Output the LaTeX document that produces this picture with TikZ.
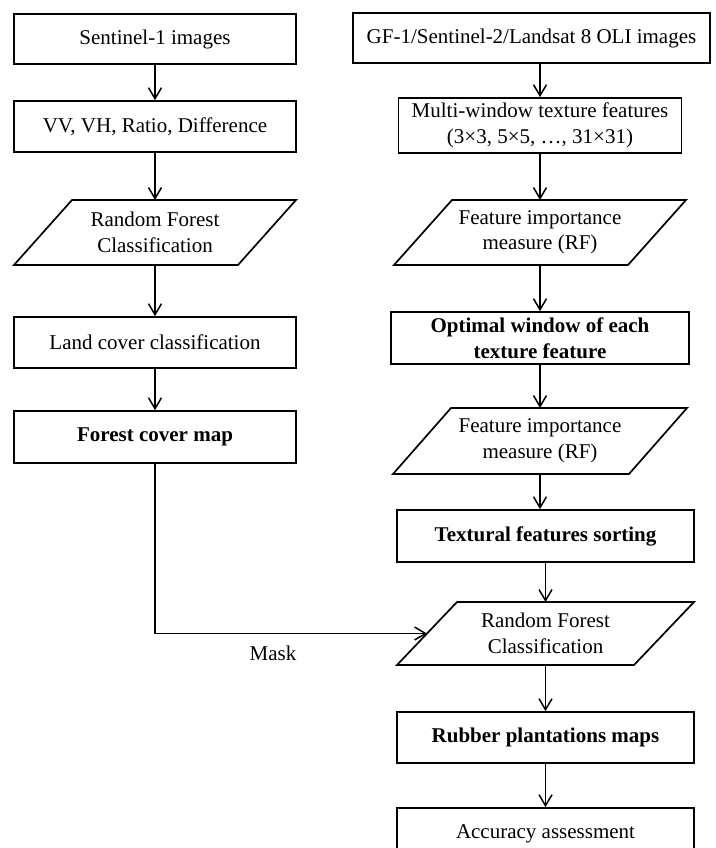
\documentclass[tikz,border=0pt]{standalone}
\usepackage{fontspec}
\setmainfont{Liberation Serif}
\usetikzlibrary{arrows.meta,calc}
\newcommand{\flowfont}{\fontsize{21}{25.5}\selectfont}

\begin{document}
\begin{tikzpicture}[x=1pt,y=-1pt,font=\flowfont,
  box/.style={draw, line width=1.7pt, align=center, inner sep=2pt},
  para/.style={align=center, inner sep=2pt, outer sep=0pt},
  hl/.style={font=\flowfont\bfseries},
  flow/.style={line width=1.5pt, -{Straight Barb[length=11pt,width=13pt,line width=1.5pt]}}]
\useasboundingbox (0,0) rectangle (715,848);
\clip (0,0) rectangle (715,848);
% left column (Sentinel-1)
\node[box, minimum width=282pt, minimum height=50pt] (s1) at (155,39) {Sentinel-1 images};
\node[box, minimum width=282pt, minimum height=51pt] (pol) at (155,126.5) {VV, VH, Ratio, Difference};
\node[para, minimum width=224pt, minimum height=65pt] (rf1) at (155,232.5) {Random Forest\\Classification};
\node[box, minimum width=282pt, minimum height=51pt] (lcc) at (155,342.5) {Land cover classification};
\node[box, hl, minimum width=282pt, minimum height=52pt] (fcm) at (155,437) {Forest cover map};
% right column (optical)
\node[box, minimum width=357pt, minimum height=50pt] (opt) at (531.5,38) {GF-1/Sentinel-2/Landsat 8 OLI images};
\node[box, minimum width=283pt, minimum height=55pt] (mwt) at (540,125.5) {Multi-window texture features\\(3×3, 5×5, …, 31×31)};
\node[para, minimum width=234pt, minimum height=65pt] (fim1) at (540,232.5) {Feature importance\\measure (RF)};
\node[box, hl, minimum width=298pt, minimum height=52pt] (owf) at (540,338) {Optimal window of each\\texture feature};
\node[para, minimum width=236pt, minimum height=66pt] (fim2) at (540,441) {Feature importance\\measure (RF)};
\node[box, hl, minimum width=297pt, minimum height=52pt] (tfs) at (545.5,536) {Textural features sorting};
\node[para, minimum width=237pt, minimum height=63pt] (rf2) at (545.5,633.5) {Random Forest\\Classification};
\node[box, hl, minimum width=297pt, minimum height=51pt] (rpm) at (545.5,737.5) {Rubber plantations maps};
\node[box, minimum width=297pt, minimum height=52pt] (acc) at (545.5,834) {Accuracy assessment};
\node (mask) at (273,653) {Mask};
% slanted outlines
\foreach \n/\d in {rf1/29, fim1/29, fim2/29, rf2/30}
  \draw[line width=1.7pt] ($(\n.south west)+(-\d,0)$) -- ($(\n.south east)+(-\d,0)$)
    -- ($(\n.north east)+(\d,0)$) -- ($(\n.north west)+(\d,0)$) -- cycle;
% arrows
\draw[flow] (s1.south) -- (pol.north);
\draw[flow] (pol.south) -- (rf1.north);
\draw[flow] (rf1.south) -- (lcc.north);
\draw[flow] (lcc.south) -- (fcm.north);
\draw[flow] (fcm.south) |- (rf2.west);
\draw[flow] (opt.south -| mwt.north) -- (mwt.north);
\draw[flow] (mwt.south) -- (fim1.north);
\draw[flow] (fim1.south) -- (owf.north);
\draw[flow] (owf.south) -- (fim2.north);
\draw[flow] (fim2.south) -- (fim2.south |- tfs.north);
\draw[flow] (tfs.south) -- (rf2.north);
\draw[flow] (rf2.south) -- (rpm.north);
\draw[flow] (rpm.south) -- (acc.north);
\end{tikzpicture}
\end{document}
